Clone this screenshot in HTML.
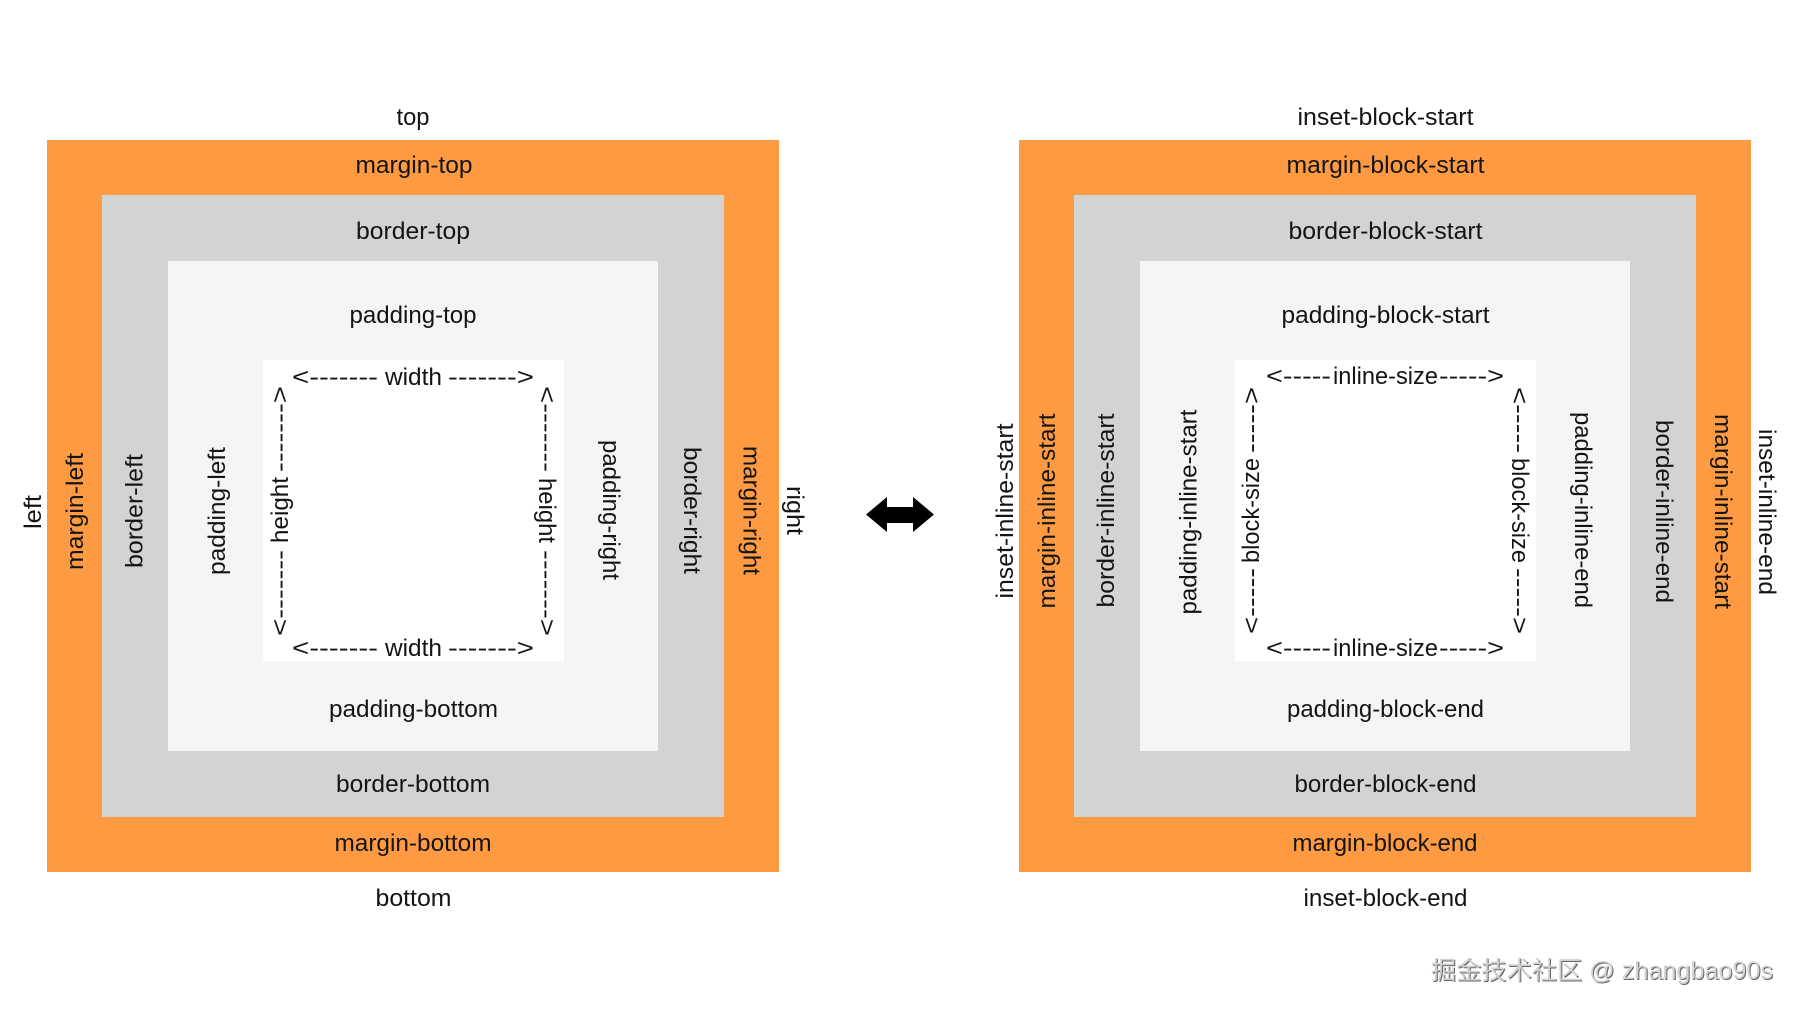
<!DOCTYPE html>
<html>
<head>
<meta charset="utf-8">
<style>
html,body{margin:0;padding:0;background:#fff;width:1800px;height:1013px;overflow:hidden}
svg{display:block}
text{font-family:"Liberation Sans","Noto Sans CJK SC",sans-serif;font-size:24px;fill:#141414}
.w{font-size:25px}
</style>
</head>
<body>
<svg width="1800" height="1013" viewBox="0 0 1800 1013" xmlns="http://www.w3.org/2000/svg">
<rect width="1800" height="1013" fill="#fff"/>

<!-- left panel -->
<rect x="47" y="140" width="732" height="732" fill="#FE9B42"/>
<rect x="102" y="195" width="622" height="622" fill="#D3D3D3"/>
<rect x="168" y="261" width="490" height="490" fill="#F5F5F5"/>
<rect x="263" y="360" width="301" height="301" fill="#FFFFFF"/>

<!-- right panel -->
<rect x="1019" y="140" width="732" height="732" fill="#FE9B42"/>
<rect x="1074" y="195" width="622" height="622" fill="#D3D3D3"/>
<rect x="1140" y="261" width="490" height="490" fill="#F5F5F5"/>
<rect x="1235" y="360" width="301" height="301" fill="#FFFFFF"/>

<!-- double arrow -->
<polygon points="866,514.5 887,497 887,507 913,507 913,497 934,514.5 913,532 913,523 887,523 887,532" fill="#000"/>

<!-- left horizontal labels -->
<text x="396.5" y="125" textLength="33" lengthAdjust="spacingAndGlyphs">top</text>
<text x="355.5" y="173" textLength="117" lengthAdjust="spacingAndGlyphs">margin-top</text>
<text x="356" y="239" textLength="114" lengthAdjust="spacingAndGlyphs">border-top</text>
<text x="349.5" y="323" textLength="127" lengthAdjust="spacingAndGlyphs">padding-top</text>
<text x="329" y="717" textLength="169" lengthAdjust="spacingAndGlyphs">padding-bottom</text>
<text x="336" y="792" textLength="154" lengthAdjust="spacingAndGlyphs">border-bottom</text>
<text x="334.5" y="851" textLength="157" lengthAdjust="spacingAndGlyphs">margin-bottom</text>
<text x="375.5" y="906" textLength="76" lengthAdjust="spacingAndGlyphs">bottom</text>

<text x="292" y="385" textLength="86" lengthAdjust="spacingAndGlyphs">&lt;-------</text>
<text x="385" y="385" textLength="57" lengthAdjust="spacingAndGlyphs">width</text>
<text x="448" y="385" textLength="86" lengthAdjust="spacingAndGlyphs">-------&gt;</text>
<text x="292" y="656" textLength="86" lengthAdjust="spacingAndGlyphs">&lt;-------</text>
<text x="385" y="656" textLength="57" lengthAdjust="spacingAndGlyphs">width</text>
<text x="448" y="656" textLength="86" lengthAdjust="spacingAndGlyphs">-------&gt;</text>

<!-- left vertical, reading upward -->
<text transform="translate(41,529) rotate(-90)" textLength="34" lengthAdjust="spacingAndGlyphs">left</text>
<text transform="translate(83,570) rotate(-90)" textLength="117" lengthAdjust="spacingAndGlyphs">margin-left</text>
<text transform="translate(142.5,568) rotate(-90)" textLength="114" lengthAdjust="spacingAndGlyphs">border-left</text>
<text transform="translate(225,575) rotate(-90)" textLength="128" lengthAdjust="spacingAndGlyphs">padding-left</text>
<text transform="translate(288,636) rotate(-90)" textLength="86" lengthAdjust="spacingAndGlyphs">&lt;-------</text>
<text transform="translate(288,543) rotate(-90)" textLength="66" lengthAdjust="spacingAndGlyphs">height</text>
<text transform="translate(288,472) rotate(-90)" textLength="86" lengthAdjust="spacingAndGlyphs">-------&gt;</text>

<!-- left vertical, reading downward -->
<text transform="translate(539,386) rotate(90)" textLength="86" lengthAdjust="spacingAndGlyphs">&lt;-------</text>
<text transform="translate(539,478) rotate(90)" textLength="65" lengthAdjust="spacingAndGlyphs">height</text>
<text transform="translate(539,550) rotate(90)" textLength="86" lengthAdjust="spacingAndGlyphs">-------&gt;</text>
<text transform="translate(603,440) rotate(90)" textLength="140" lengthAdjust="spacingAndGlyphs">padding-right</text>
<text transform="translate(684,447) rotate(90)" textLength="127" lengthAdjust="spacingAndGlyphs">border-right</text>
<text transform="translate(743.5,446) rotate(90)" textLength="129" lengthAdjust="spacingAndGlyphs">margin-right</text>
<text transform="translate(787,486) rotate(90)" textLength="49" lengthAdjust="spacingAndGlyphs">right</text>

<!-- right horizontal labels -->
<text x="1297.5" y="125" textLength="176" lengthAdjust="spacingAndGlyphs">inset-block-start</text>
<text x="1286.5" y="173" textLength="198" lengthAdjust="spacingAndGlyphs">margin-block-start</text>
<text x="1288.5" y="239" textLength="194" lengthAdjust="spacingAndGlyphs">border-block-start</text>
<text x="1281.5" y="323" textLength="208" lengthAdjust="spacingAndGlyphs">padding-block-start</text>
<text x="1287" y="717" textLength="197" lengthAdjust="spacingAndGlyphs">padding-block-end</text>
<text x="1294.5" y="792" textLength="182" lengthAdjust="spacingAndGlyphs">border-block-end</text>
<text x="1292.5" y="851" textLength="185" lengthAdjust="spacingAndGlyphs">margin-block-end</text>
<text x="1303.5" y="906" textLength="164" lengthAdjust="spacingAndGlyphs">inset-block-end</text>

<text x="1266" y="384" textLength="65" lengthAdjust="spacingAndGlyphs">&lt;-----</text>
<text x="1333" y="384" textLength="105" lengthAdjust="spacingAndGlyphs">inline-size</text>
<text x="1439" y="384" textLength="65" lengthAdjust="spacingAndGlyphs">-----&gt;</text>
<text x="1266" y="656" textLength="65" lengthAdjust="spacingAndGlyphs">&lt;-----</text>
<text x="1333" y="656" textLength="105" lengthAdjust="spacingAndGlyphs">inline-size</text>
<text x="1439" y="656" textLength="65" lengthAdjust="spacingAndGlyphs">-----&gt;</text>

<!-- right vertical, reading upward -->
<text transform="translate(1013,598.5) rotate(-90)" textLength="175" lengthAdjust="spacingAndGlyphs">inset-inline-start</text>
<text transform="translate(1055,608.5) rotate(-90)" textLength="195" lengthAdjust="spacingAndGlyphs">margin-inline-start</text>
<text transform="translate(1114,607.5) rotate(-90)" textLength="194" lengthAdjust="spacingAndGlyphs">border-inline-start</text>
<text transform="translate(1196.5,614.5) rotate(-90)" textLength="205" lengthAdjust="spacingAndGlyphs">padding-inline-start</text>
<text transform="translate(1259.5,634) rotate(-90)" textLength="66" lengthAdjust="spacingAndGlyphs">&lt;-----</text>
<text transform="translate(1259,563) rotate(-90)" textLength="105" lengthAdjust="spacingAndGlyphs">block-size</text>
<text transform="translate(1259.5,453) rotate(-90)" textLength="66" lengthAdjust="spacingAndGlyphs">-----&gt;</text>

<!-- right vertical, reading downward -->
<text transform="translate(1511.5,387) rotate(90)" textLength="66" lengthAdjust="spacingAndGlyphs">&lt;-----</text>
<text transform="translate(1512,458) rotate(90)" textLength="105" lengthAdjust="spacingAndGlyphs">block-size</text>
<text transform="translate(1511.5,568) rotate(90)" textLength="66" lengthAdjust="spacingAndGlyphs">-----&gt;</text>
<text transform="translate(1575,412) rotate(90)" textLength="196" lengthAdjust="spacingAndGlyphs">padding-inline-end</text>
<text transform="translate(1656,420) rotate(90)" textLength="183" lengthAdjust="spacingAndGlyphs">border-inline-end</text>
<text transform="translate(1715,414) rotate(90)" textLength="195" lengthAdjust="spacingAndGlyphs">margin-inline-start</text>
<text transform="translate(1759,429) rotate(90)" textLength="166" lengthAdjust="spacingAndGlyphs">inset-inline-end</text>

<!-- watermark -->
<text class="w" x="1432" y="980" textLength="342" lengthAdjust="spacingAndGlyphs" style="fill:#666">掘金技术社区 @ zhangbao90s</text>
<text class="w" x="1431" y="979" textLength="342" lengthAdjust="spacingAndGlyphs" style="fill:#d2d2d2">掘金技术社区 @ zhangbao90s</text>
</svg>
</body>
</html>
